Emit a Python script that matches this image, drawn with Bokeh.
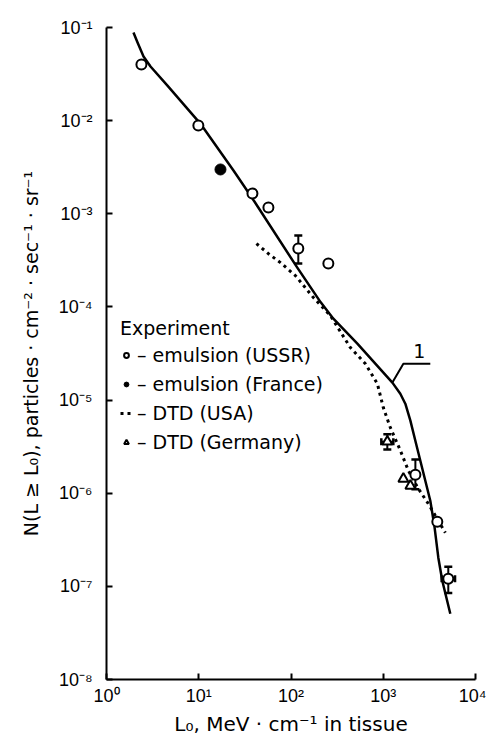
from bokeh.plotting import figure
from bokeh.models import (Range1d, FixedTicker, CustomJSTickFormatter, Legend,
                          LegendItem, Label)
from bokeh.embed import file_html
from bokeh.resources import INLINE

# ---- data ----
# Theory curve "1"
CURVE_L = [1.96, 2.17, 2.52, 3.0, 4.58, 10.4, 23.8, 38.2, 117, 210, 288, 524,
           1256, 1531, 1735, 1968, 2228, 2523, 3236, 3581, 3954, 4365, 5333]
CURVE_N = [8.83e-2, 6.9e-2, 4.89e-2, 3.81e-2, 2.38e-2, 9.3e-3, 2.91e-3, 1.46e-3,
           2.64e-4, 1.12e-4, 7.48e-5, 4.04e-5, 1.54e-5, 1.17e-5, 9.14e-6,
           6.01e-6, 3.66e-6, 2.23e-6, 8.3e-7, 4.48e-7, 2.03e-7, 1.15e-7, 5.08e-8]

# DTD (USA) dotted curve
USA_L = [42.2, 56.9, 76.8, 111.6, 175, 267, 440, 640, 863, 1002, 1194, 1531,
         1871, 2399, 3083, 4710]
USA_N = [4.79e-4, 3.73e-4, 2.99e-4, 2.17e-4, 1.26e-4, 8.07e-5, 3.66e-5, 2.46e-5,
         1.50e-5, 8.3e-6, 5.06e-6, 2.88e-6, 1.75e-6, 1.12e-6, 7.7e-7, 3.77e-7]

# emulsion (USSR) open circles
USSR_L = [2.39, 9.9, 38.2, 56.9, 120, 254, 2230, 3855, 5070]
USSR_N = [4.0e-2, 8.85e-3, 1.65e-3, 1.17e-3, 4.23e-4, 2.92e-4, 1.58e-6, 4.94e-7, 1.21e-7]

# emulsion (France) filled circle
FR_L = [17.2]
FR_N = [2.99e-3]

# DTD (Germany) triangles
DE_L = [1107, 1652, 1968]
DE_N = [3.57e-6, 1.43e-6, 1.2e-6]

# vertical error bars
EV_L = [120, 2230, 5070, 1107]
EV_LO = [2.92e-4, 1.1e-6, 8.5e-8, 2.95e-6]
EV_HI = [5.83e-4, 2.3e-6, 1.62e-7, 4.3e-6]
# horizontal error bars
EH_N = [1.21e-7, 3.57e-6]
EH_LO = [4300, 953]
EH_HI = [6000, 1286]

# curve label "1" and its leader line
LEADER_L = [1256, 1652, 3236]
LEADER_N = [1.54e-5, 2.46e-5, 2.46e-5]
LABEL_L = 2460
LABEL_N = 3.4e-5

X_TICKS = [1, 10, 100, 1000, 10000]
Y_TICKS = [1e-8, 1e-7, 1e-6, 1e-5, 1e-4, 1e-3, 1e-2, 1e-1]

# ---- figure ----
p = figure(frame_width=369, frame_height=652,
           x_axis_type="log", y_axis_type="log",
           x_range=Range1d(1, 1e4), y_range=Range1d(1e-8, 1e-1),
           output_backend="svg", toolbar_location=None,
           min_border_left=106, min_border_right=11,
           min_border_top=27, min_border_bottom=61)
p.outline_line_color = None
p.xgrid.visible = False
p.ygrid.visible = False
p.background_fill_color = "white"
p.border_fill_color = "white"

fmt = CustomJSTickFormatter(code="""
const s = {'-':'\u207b','0':'\u2070','1':'\u00b9','2':'\u00b2','3':'\u00b3','4':'\u2074',
           '5':'\u2075','6':'\u2076','7':'\u2077','8':'\u2078','9':'\u2079'};
const e = Math.round(Math.log10(tick));
return '10' + String(e).split('').map(c => s[c]).join('');
""")

for ax, ticks in ((p.xaxis[0], X_TICKS), (p.yaxis[0], Y_TICKS)):
    ax.ticker = FixedTicker(ticks=ticks)
    ax.formatter = fmt
    ax.axis_line_width = 2
    ax.axis_line_color = "black"
    ax.major_tick_in = 6
    ax.major_tick_out = 0
    ax.major_tick_line_width = 2
    ax.minor_tick_line_color = None
    ax.major_label_text_font = "Liberation Sans"
    ax.major_label_text_font_size = "18px"
    ax.major_label_text_color = "black"
    ax.axis_label_text_font = "DejaVu Sans"
    ax.axis_label_text_font_style = "normal"
    ax.axis_label_text_color = "black"

p.yaxis[0].axis_label_text_font_size = "19px"
p.xaxis[0].axis_label_text_font_size = "20px"
p.yaxis[0].major_label_standoff = 14
p.yaxis[0].axis_label_standoff = 14
p.xaxis[0].major_label_standoff = 6
p.xaxis[0].axis_label_standoff = 3
p.yaxis[0].axis_label = "N(L \u2265 L\u2080), particles \u00b7 cm\u207b\u00b2 \u00b7 sec\u207b\u00b9 \u00b7 sr\u207b\u00b9"
p.xaxis[0].axis_label = "L\u2080, MeV \u00b7 cm\u207b\u00b9 in tissue"

# theory curve
p.line(CURVE_L, CURVE_N, line_color="black", line_width=2.5, line_join="round")
# leader + label
p.line(LEADER_L, LEADER_N, line_color="black", line_width=2)
p.add_layout(Label(x=LABEL_L, y=LABEL_N, text="1", text_font="DejaVu Sans",
                   text_font_size="19px", text_align="center",
                   text_baseline="middle", text_color="black"))

# USA dotted
r_usa = p.line(USA_L, USA_N, line_color="black", line_width=3, line_dash="3 4")

# error bars
p.segment(x0=EV_L, y0=EV_LO, x1=EV_L, y1=EV_HI, line_color="black", line_width=2)
p.scatter(EV_L + EV_L, EV_LO + EV_HI, marker="dash", size=8, line_color="black",
          line_width=2.5)
p.segment(x0=EH_LO, y0=EH_N, x1=EH_HI, y1=EH_N, line_color="black", line_width=2)
p.scatter(EH_LO + EH_HI, EH_N + EH_N, marker="dash", size=7, angle=1.5708,
          line_color="black", line_width=2.5)

r_ussr = p.scatter(USSR_L, USSR_N, marker="circle", size=10, line_color="black",
                   line_width=2, fill_color="white")
r_fr = p.scatter(FR_L, FR_N, marker="circle", size=11, line_color="black",
                 line_width=1, fill_color="black")
r_de = p.scatter(DE_L, DE_N, marker="triangle", size=10, line_color="black",
                 line_width=2, fill_color="white")

legend = Legend(items=[
    LegendItem(label="\u2013 emulsion (USSR)", renderers=[r_ussr]),
    LegendItem(label="\u2013 emulsion (France)", renderers=[r_fr]),
    LegendItem(label="\u2013 DTD (USA)", renderers=[r_usa]),
    LegendItem(label="\u2013 DTD (Germany)", renderers=[r_de]),
], location=(14, 226), title="Experiment")
legend.title_text_font = "DejaVu Sans"
legend.title_text_font_size = "19px"
legend.title_text_font_style = "normal"
legend.title_text_color = "black"
legend.title_standoff = 5
legend.label_text_font = "DejaVu Sans"
legend.label_text_font_size = "19px"
legend.label_text_color = "black"
legend.label_standoff = 5
legend.label_height = 20
legend.glyph_height = 20
legend.glyph_width = 12
legend.spacing = 7
legend.padding = 0
legend.margin = 0
legend.border_line_alpha = 0
legend.background_fill_alpha = 0
p.add_layout(legend, "center")

open("out.html", "w").write(file_html(p, INLINE))
